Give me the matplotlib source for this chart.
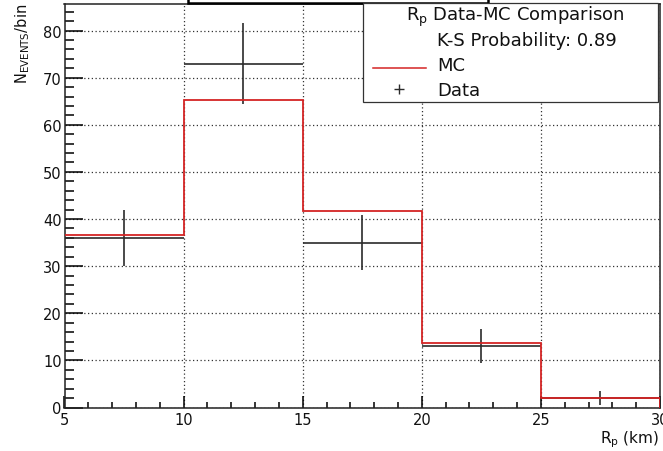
import numpy as np
import matplotlib
matplotlib.use("Agg")
import matplotlib.pyplot as plt
from matplotlib.patches import Rectangle
from matplotlib.lines import Line2D
from matplotlib.ticker import MultipleLocator

# Histogram binning in R_p (km)
bin_edges = [5, 10, 15, 20, 25, 30]
# Simulated (MC) counts per bin, normalised to the data
mc_counts = [36.6, 65.3, 41.6, 13.6, 2.0]
# Observed counts per bin
data_counts = [36, 73, 35, 13, 2]

ks_probability = 0.89
y_max = 85.7

W, H = 663, 452
fig = plt.figure(figsize=(W / 100, H / 100), dpi=100)
fig.patch.set_facecolor("white")

def fx(px):
    return px / W

def fy(py):
    return 1 - py / H

ax_left, ax_right, ax_top, ax_bottom = 64.5, 660.0, 4.7, 408.5
ax = fig.add_axes([fx(ax_left), fy(ax_bottom), fx(ax_right) - fx(ax_left),
                   fy(ax_top) - fy(ax_bottom)])

edges = np.array(bin_edges, dtype=float)
centers = 0.5 * (edges[:-1] + edges[1:])
half_w = 0.5 * np.diff(edges)
data = np.array(data_counts, dtype=float)
errs = np.sqrt(data)

# Data points with Poisson errors and full-bin horizontal bars
ax.errorbar(centers, data, xerr=half_w, yerr=errs, fmt="none",
            ecolor="#2b2b2b", elinewidth=1.2, capsize=0, zorder=3)

# MC histogram outline
ax.stairs(mc_counts, edges, baseline=0, fill=False, color="#d42424",
          linewidth=1.3, zorder=4)

ax.set_xlim(edges[0], edges[-1])
ax.set_ylim(0, y_max)

ax.xaxis.set_major_locator(MultipleLocator(5))
ax.xaxis.set_minor_locator(MultipleLocator(1))
ax.yaxis.set_major_locator(MultipleLocator(10))
ax.yaxis.set_minor_locator(MultipleLocator(2))

ax.grid(True, which="major", color="#333333", linestyle=(0, (1, 2)),
        linewidth=0.9, zorder=1)

ax.tick_params(axis="both", which="both", direction="in", color="black",
               labelsize=10.5, labelcolor="#111111")
ax.tick_params(axis="y", which="major", length=13, width=1.1, pad=2)
ax.tick_params(axis="y", which="minor", length=6.5, width=1.1)
ax.tick_params(axis="x", which="major", length=9, width=1.1, pad=3)
ax.tick_params(axis="x", which="minor", length=4.5, width=1.1)
ax.tick_params(top=False, right=False, which="both")

for s in ax.spines.values():
    s.set_linewidth(1.1)
    s.set_color("#222222")

# Axis titles
fig.text(fx(23), fy(4), r"N$_{\mathrm{EVENTS}}$/bin", rotation=90,
         ha="center", va="top", fontsize=10.5, color="#111111")
fig.text(fx(659), fy(440), r"R$_{\mathrm{p}}$ (km)", ha="right",
         va="center", fontsize=11, color="#111111")

# Title box, mostly above the canvas
fig.patches.append(Rectangle((fx(188), fy(3.5)), fx(488) - fx(188), 0.2,
                             transform=fig.transFigure, facecolor="white",
                             edgecolor="black", linewidth=1.8, zorder=5))

# Legend box
lg_l, lg_r, lg_t, lg_b = 363, 658, 4, 103
fig.patches.append(Rectangle((fx(lg_l), fy(lg_b)), fx(lg_r) - fx(lg_l),
                             fy(lg_t) - fy(lg_b), transform=fig.transFigure,
                             facecolor="white", edgecolor="#333333",
                             linewidth=0.9, zorder=6))

leg_fs = 13
fig.text(fx(515), fy(17), r"R$_{\mathrm{p}}$ Data-MC Comparison",
         ha="center", va="center", fontsize=leg_fs, color="#111111", zorder=7)
fig.text(fx(437), fy(41), f"K-S Probability: {ks_probability:.2f}",
         ha="left", va="center", fontsize=leg_fs, color="#111111", zorder=7)
fig.text(fx(437), fy(66), "MC", ha="left", va="center", fontsize=leg_fs,
         color="#111111", zorder=7)
fig.text(fx(437), fy(91), "Data", ha="left", va="center", fontsize=leg_fs,
         color="#111111", zorder=7)
fig.lines.append(Line2D([fx(373), fx(426)], [fy(69), fy(69)],
                        transform=fig.transFigure, color="#d42424",
                        linewidth=1.1, zorder=7))
fig.lines.append(Line2D([fx(399)], [fy(90)], transform=fig.transFigure,
                        marker="+", markersize=7, markeredgewidth=1.0,
                        color="#2b2b2b", linestyle="none", zorder=7))

fig.savefig("out.png", dpi=100, facecolor="white")
